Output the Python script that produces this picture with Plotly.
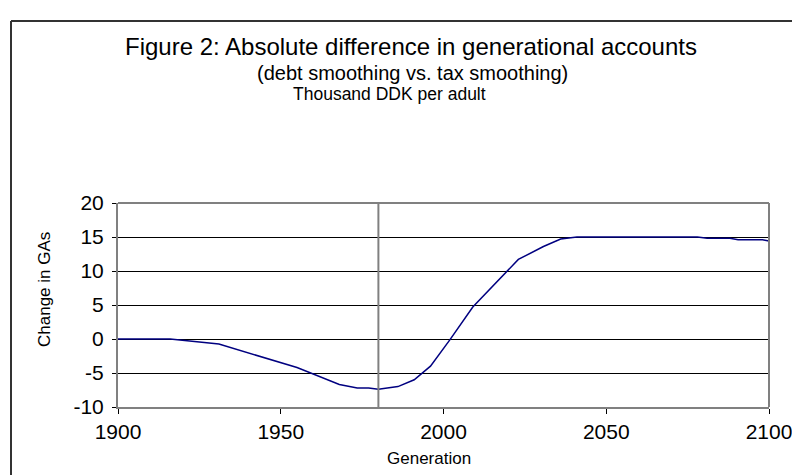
import plotly.graph_objects as go

years = [1900, 1916, 1931, 1955, 1968, 1973.5, 1977, 1980, 1986, 1991, 1996, 2002, 2009, 2016, 2023, 2030.7, 2036, 2041, 2078, 2081, 2088, 2090.5, 2098, 2100]
change = [0, 0, -0.74, -4.2, -6.7, -7.2, -7.2, -7.4, -7.0, -6.0, -4.0, -0.1, 4.7, 8.2, 11.7, 13.6, 14.7, 15.0, 15.0, 14.8, 14.8, 14.6, 14.6, 14.4]
x_ticks = [1900, 1950, 2000, 2050, 2100]
y_ticks = [-10, -5, 0, 5, 10, 15, 20]
y_tick_labels = ["-10", "-5", "0", "5", "10", "15", "20"]

FONT = "Liberation Sans, Arial, sans-serif"
W, H = 800, 475
L, R, T, B = 110, 39, 195, 76
PW, PH = W - L - R, H - T - B


def px(xp):
    return (xp - L) / PW


def py(yp):
    return (H - B - yp) / PH


fig = go.Figure()
fig.add_trace(go.Scatter(x=years, y=change, mode="lines",
                         line=dict(color="#000080", width=1.5), showlegend=False))

fig.update_layout(
    width=W, height=H,
    margin=dict(l=L, r=R, t=T, b=B),
    paper_bgcolor="white", plot_bgcolor="white",
    font=dict(family=FONT, color="black", size=16),
    xaxis=dict(range=[1900, 2100], tickvals=x_ticks, showgrid=False, zeroline=False,
               showline=True, linecolor="#808080", linewidth=2,
               ticks="outside", ticklen=5, tickcolor="black",
               tickfont=dict(size=21)),
    yaxis=dict(range=[-10, 20], tickvals=y_ticks, ticktext=y_tick_labels,
               showgrid=True, gridcolor="black", gridwidth=1,
               zeroline=False, showline=True, linecolor="#808080", linewidth=2,
               ticks="outside", ticklen=4, tickcolor="black", ticklabelstandoff=4,
               tickfont=dict(size=21)),
    shapes=[
        dict(type="line", xref="x", yref="paper", x0=1980, x1=1980, y0=0, y1=1,
             line=dict(color="#808080", width=2)),
        dict(type="line", xref="paper", yref="paper", x0=0, x1=1, y0=1, y1=1,
             line=dict(color="#808080", width=2)),
        dict(type="line", xref="paper", yref="paper", x0=1, x1=1, y0=0, y1=1,
             line=dict(color="#808080", width=2)),
        dict(type="line", xref="paper", yref="paper", x0=px(3), x1=px(800), y0=py(13), y1=py(13),
             line=dict(color="#333333", width=2)),
        dict(type="line", xref="paper", yref="paper", x0=px(3), x1=px(3), y0=py(13), y1=py(475),
             line=dict(color="#333333", width=2)),
    ],
    annotations=[
        dict(text="Figure 2: Absolute difference in generational accounts", xref="paper", yref="paper",
             x=px(403), y=py(38), xanchor="center", yanchor="middle", showarrow=False,
             font=dict(size=24)),
        dict(text="(debt smoothing vs. tax smoothing)", xref="paper", yref="paper",
             x=px(404), y=py(65), xanchor="center", yanchor="middle", showarrow=False,
             font=dict(size=20)),
        dict(text="Thousand DDK per adult", xref="paper", yref="paper",
             x=px(381), y=py(86), xanchor="center", yanchor="middle", showarrow=False,
             font=dict(size=17.5)),
        dict(text="Generation", xref="paper", yref="paper",
             x=px(421), y=py(450), xanchor="center", yanchor="middle", showarrow=False,
             font=dict(size=17)),
        dict(text="Change in GAs", xref="paper", yref="paper", textangle=-90,
             x=px(36), y=py(282), xanchor="center", yanchor="middle", showarrow=False,
             font=dict(size=17)),
    ],
)

fig.write_html("out.html")
